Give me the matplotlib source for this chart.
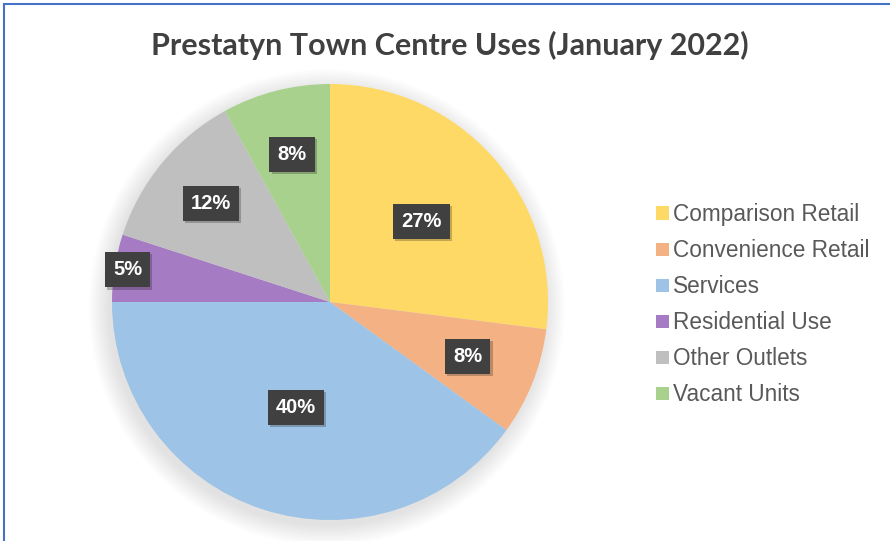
import numpy as np
import matplotlib
matplotlib.use('Agg')
import matplotlib.pyplot as plt
from matplotlib.patches import Patch, Circle, Rectangle
import matplotlib.patheffects as pe

# data
categories = ['Comparison Retail', 'Convenience Retail', 'Services',
              'Residential Use', 'Other Outlets', 'Vacant Units']
shares = [27, 8, 40, 5, 12, 8]
colors = ['#FFD966', '#F4B183', '#9DC3E6', '#A57BC4', '#BFBFBF', '#A9D18E']
# how far out each % label sits (fraction of radius)
labelDist = [0.56, 0.68, 0.51, 0.94, 0.71, 0.70]

W, H = 890, 541
fig = plt.figure(figsize=(W/100, H/100), dpi=100)
fig.patch.set_facecolor('white')

# blue frame (only left/top visible in the crop)
fig.add_artist(Rectangle((4/W, -0.1), 1.2, 1 - 4/H + 0.1, transform=fig.transFigure,
                         fill=False, edgecolor='#4472C4', linewidth=1.5))

R = 218
cx, cy = 330, 302
ax = fig.add_axes([(cx-R)/W, (H-cy-R)/H, 2*R/W, 2*R/H])

# soft shadow
for i in range(10):
    ax.add_patch(Circle((-0.015, -0.025), 1.0 + 0.01*i, color='#909090',
                        alpha=0.025, zorder=0, lw=0, clip_on=False))

wedges, _ = ax.pie(shares, colors=colors, startangle=90, counterclock=False,
                   radius=1, frame=True, wedgeprops=dict(linewidth=0, zorder=2))
ax.set_xlim(-1, 1)
ax.set_ylim(-1, 1)
ax.axis('off')

for w, v, d in zip(wedges, shares, labelDist):
    ang = np.deg2rad((w.theta1 + w.theta2) / 2)
    t = ax.text(d*np.cos(ang), d*np.sin(ang), str(v) + '%', ha='center', va='center',
                color='white', fontsize=14.5, fontweight='bold', family='Liberation Sans',
                zorder=5,
                bbox=dict(boxstyle='square,pad=0.4', facecolor='#404040', edgecolor='none'))
    t.get_bbox_patch().set_path_effects([pe.SimplePatchShadow(offset=(1.5, -1.5), alpha=0.25),
                                         pe.Normal()])

fig.text(450/W, 1 - 45/H, 'Prestatyn Town Centre Uses (January 2022)', ha='center',
         va='center', fontsize=22, fontweight='bold', color='#404040', family='Lato')

handles = [Patch(facecolor=c, edgecolor='none') for c in colors]
leg = fig.legend(handles, categories, loc='upper left',
                 bbox_to_anchor=(645/W, 1 - 192/H), frameon=False,
                 prop=dict(family='Liberation Sans', size=16.3),
                 handlelength=0.55, handleheight=0.55, handletextpad=0.2,
                 labelspacing=0.575, borderpad=0)
for t in leg.get_texts():
    t.set_color('#595959')

fig.savefig('out.png', dpi=100)
